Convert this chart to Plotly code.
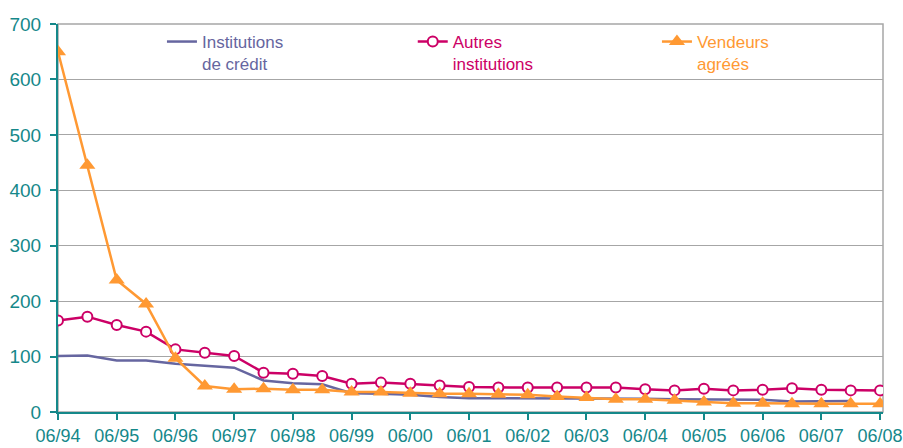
import plotly.graph_objects as go

# half-year periods, June 1994 to June 2008
periods = [
    "06/94", "12/94", "06/95", "12/95", "06/96", "12/96", "06/97", "12/97",
    "06/98", "12/98", "06/99", "12/99", "06/00", "12/00", "06/01", "12/01",
    "06/02", "12/02", "06/03", "12/03", "06/04", "12/04", "06/05", "12/05",
    "06/06", "12/06", "06/07", "12/07", "06/08",
]
year_ticks = periods[::2]  # only June is labelled

institutions_credit = [
    101, 102, 93, 93, 87, 84, 80, 57, 52, 50, 34, 33, 31, 27, 25, 25,
    25, 25, 24, 24, 24, 23, 23, 22, 22, 19, 20, 20, None,
]
autres_institutions = [
    165, 172, 157, 145, 113, 107, 101, 71, 69, 65, 51, 53, 51, 48, 45, 44,
    44, 44, 44, 44, 41, 39, 42, 39, 40, 43, 40, 39, 39,
]
vendeurs_agrees = [
    650, 445, 238, 195, 97, 47, 41, 42, 40, 40, 36, 36, 34, 33, 33, 32,
    31, 28, 26, 23, 23, 21, 18, 16, 16, 15, 15, 15, 15,
]

teal = "#15888a"
purple = "#6666a0"
magenta = "#cc0066"
orange = "#ff9933"
font = "Arial, Liberation Sans, sans-serif"

fig = go.Figure()
fig.add_trace(go.Scatter(
    x=periods, y=institutions_credit, name="Institutions<br>de crédit",
    mode="lines", line=dict(color=purple, width=2.5),
    legend="legend",
))
fig.add_trace(go.Scatter(
    x=periods, y=autres_institutions, name="Autres<br>institutions",
    mode="lines+markers", line=dict(color=magenta, width=2.5),
    marker=dict(symbol="circle", size=10, color="white",
                line=dict(color=magenta, width=2)),
    legend="legend2",
))
fig.add_trace(go.Scatter(
    x=periods, y=vendeurs_agrees, name="Vendeurs<br>agréés",
    mode="lines+markers", line=dict(color=orange, width=2.5),
    marker=dict(symbol="triangle-up", size=14, color=orange),
    legend="legend3",
))


def leg(x, col):
    return dict(x=x, y=1.0, xanchor="left", yanchor="top", valign="top",
                bgcolor="rgba(0,0,0,0)", font=dict(size=17, color=col))


fig.update_layout(
    width=903, height=448,
    margin=dict(l=58, r=20, t=24, b=36),
    paper_bgcolor="white", plot_bgcolor="white",
    font=dict(family=font, size=18, color=teal),
    showlegend=True,
    legend=leg(0.126, purple),
    legend2=leg(0.430, magenta),
    legend3=leg(0.726, orange),
)
fig.update_xaxes(
    type="category", range=[0, 28.1], automargin=False,
    tickvals=year_ticks, ticktext=year_ticks,
    showgrid=False, showline=True, linecolor=teal, linewidth=2,
    ticks="outside", ticklen=6, tickcolor=teal, tickwidth=1.5,
    tickfont=dict(size=18, color=teal), zeroline=False,
)
fig.update_yaxes(
    range=[0, 700], dtick=100, automargin=False,
    showgrid=True, gridcolor="#a6a6a6", gridwidth=1,
    showline=True, linecolor=teal, linewidth=2,
    ticks="outside", ticklen=6, tickcolor=teal, tickwidth=1.5,
    ticklabelstandoff=5,
    tickfont=dict(size=19, color=teal), zeroline=False,
)
# grey frame round the plot area (axis lines drawn over left and bottom)
fig.add_shape(type="rect", xref="paper", yref="paper", x0=0, x1=1, y0=0, y1=1,
              line=dict(color="#a6a6a6", width=1.5), layer="below")

# page body has a default margin; drop it so the chart fills the window
fig.write_html("out.html", config={"displayModeBar": False},
               post_script="document.body.style.margin='0';")
